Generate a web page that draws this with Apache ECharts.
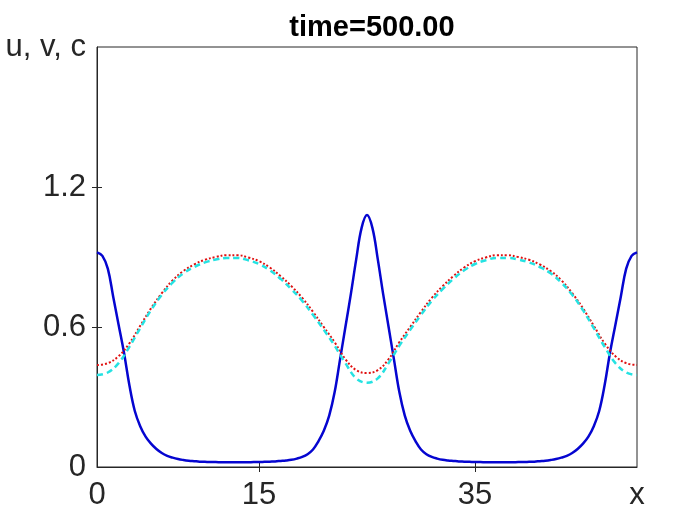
<!DOCTYPE html>
<html>
<head>
<meta charset="utf-8">
<script src="https://cdn.jsdelivr.net/npm/echarts@6/dist/echarts.min.js"></script>
<style>
  html, body { margin: 0; padding: 0; background: #fff; }
  #chart { width: 700px; height: 525px; }
</style>
</head>
<body>
<div id="chart"></div>
<script>
// grid positions for v and c, x = 0..50
const xs = [
  0, 1, 2, 3, 4, 5, 6, 7, 8, 9, 10, 11, 12, 13, 14, 15, 16, 17, 18, 19, 20, 21, 22, 23, 24, 25,
  26, 27, 28, 29, 30, 31, 32, 33, 34, 35, 36, 37, 38, 39, 40, 41, 42, 43, 44, 45, 46, 47, 48, 49, 50
];
// finer grid for u (pulses are narrow), x = 0..50 step 0.5
const uXs = [
  0, 0.5, 1, 1.5, 2, 2.5, 3, 3.5, 4, 4.5, 5, 5.5, 6, 6.5, 7, 7.5, 8, 8.5, 9, 9.5,
  10, 10.5, 11, 11.5, 12, 12.5, 13, 13.5, 14, 14.5, 15, 15.5, 16, 16.5, 17, 17.5, 18, 18.5, 19, 19.5,
  20, 20.5, 21, 21.5, 22, 22.5, 23, 23.5, 24, 24.5, 25, 25.5, 26, 26.5, 27, 27.5, 28, 28.5, 29, 29.5,
  30, 30.5, 31, 31.5, 32, 32.5, 33, 33.5, 34, 34.5, 35, 35.5, 36, 36.5, 37, 37.5, 38, 38.5, 39, 39.5,
  40, 40.5, 41, 41.5, 42, 42.5, 43, 43.5, 44, 44.5, 45, 45.5, 46, 46.5, 47, 47.5, 48, 48.5, 49, 49.5, 50
];
// u (blue solid)
const uVals = [
  0.92, 0.905, 0.85, 0.73, 0.61, 0.49, 0.35, 0.24, 0.175, 0.13, 0.10, 0.077, 0.06, 0.048, 0.04, 0.034, 0.03, 0.027, 0.025, 0.023,
  0.022, 0.021, 0.021, 0.02, 0.02, 0.02, 0.02, 0.02, 0.02, 0.021, 0.021, 0.022, 0.023, 0.024, 0.026, 0.028, 0.031, 0.036, 0.043, 0.055,
  0.075, 0.11, 0.155, 0.22, 0.32, 0.46, 0.60, 0.74, 0.89, 1.025, 1.08, 1.025, 0.89, 0.74, 0.60, 0.46, 0.32, 0.22, 0.155, 0.11,
  0.075, 0.055, 0.043, 0.036, 0.031, 0.028, 0.026, 0.024, 0.023, 0.022, 0.021, 0.021, 0.02, 0.02, 0.02, 0.02, 0.02, 0.02, 0.021, 0.021,
  0.022, 0.023, 0.025, 0.027, 0.03, 0.034, 0.04, 0.048, 0.06, 0.077, 0.10, 0.13, 0.175, 0.24, 0.35, 0.49, 0.61, 0.73, 0.85, 0.905, 0.92
];
// v (red dotted)
const vVals = [
  0.437, 0.445, 0.475, 0.53, 0.605, 0.68, 0.745, 0.80, 0.84, 0.868, 0.888, 0.90, 0.908,
  0.908, 0.898, 0.882, 0.855, 0.818, 0.775, 0.725, 0.665, 0.60, 0.535, 0.462, 0.415, 0.403,
  0.415, 0.462, 0.535, 0.60, 0.665, 0.725, 0.775, 0.818, 0.855, 0.882, 0.898, 0.908,
  0.908, 0.90, 0.888, 0.868, 0.84, 0.80, 0.745, 0.68, 0.605, 0.53, 0.475, 0.445, 0.437
];
// c (cyan dashed)
const cVals = [
  0.394, 0.405, 0.445, 0.515, 0.595, 0.672, 0.738, 0.79, 0.83, 0.857, 0.877, 0.889, 0.896,
  0.896, 0.886, 0.870, 0.843, 0.806, 0.762, 0.712, 0.652, 0.588, 0.52, 0.445, 0.38, 0.361,
  0.38, 0.445, 0.52, 0.588, 0.652, 0.712, 0.762, 0.806, 0.843, 0.870, 0.886, 0.896,
  0.896, 0.889, 0.877, 0.857, 0.83, 0.79, 0.738, 0.672, 0.595, 0.515, 0.445, 0.405, 0.394
];
const xTickLabels = [0, 15, 35, 50];
const yTickLabels = [0, 0.6, 1.2, 1.8];

const pairs = (xv, vals) => xv.map((x, i) => [x, vals[i]]);
const axisColor = "#262626";
const font = "Helvetica, Arial, 'Liberation Sans', sans-serif";

const chart = echarts.init(document.getElementById("chart"));
chart.setOption({
  backgroundColor: "#fff",
  animation: false,
  title: {
    text: "time=500.00",
    left: 367,
    textAlign: "center",
    top: 8,
    textStyle: { fontFamily: font, fontSize: 29, fontWeight: "bold", color: "#000" },
  },
  grid: {
    left: 97,
    right: 63,
    top: 47,
    bottom: 58,
    show: true,
    borderColor: axisColor,
    borderWidth: 1,
  },
  xAxis: [
    {
      type: "value",
      min: 0,
      max: 50,
      axisLine: { show: true, lineStyle: { color: axisColor } },
      splitLine: { show: false },
      axisTick: { show: true, inside: true, length: 5, customValues: [15, 35], lineStyle: { color: axisColor } },
      axisLabel: {
        customValues: xTickLabels,
        formatter: (v) => (v === 50 ? "x" : String(v)),
        fontFamily: font,
        fontSize: 31,
        color: axisColor,
        margin: 13,
      },
    },
    {
      type: "value",
      position: "top",
      min: 0,
      max: 50,
      axisLine: { show: false },
      splitLine: { show: false },
      axisTick: { show: true, inside: true, length: 5, customValues: [15, 35], lineStyle: { color: axisColor } },
      axisLabel: { show: false },
    },
  ],
  yAxis: [
    {
      type: "value",
      min: 0,
      max: 1.8,
      axisLine: { show: true, lineStyle: { color: axisColor } },
      splitLine: { show: false },
      axisTick: { show: true, inside: true, length: 5, customValues: [0.6, 1.2], lineStyle: { color: axisColor } },
      axisLabel: {
        customValues: yTickLabels,
        formatter: (v) => (Math.abs(v - 1.8) < 1e-9 ? "u, v, c" : String(v)),
        fontFamily: font,
        fontSize: 31,
        color: axisColor,
        margin: 11,
      },
    },
    {
      type: "value",
      position: "right",
      min: 0,
      max: 1.8,
      axisLine: { show: false },
      splitLine: { show: false },
      axisTick: { show: true, inside: true, length: 5, customValues: [0.6, 1.2], lineStyle: { color: axisColor } },
      axisLabel: { show: false },
    },
  ],
  series: [
    {
      name: "u",
      type: "line",
      data: pairs(uXs, uVals),
      smooth: 0.4,
      showSymbol: false,
      lineStyle: { color: "#0505d0", width: 2.5, type: "solid" },
      z: 3,
    },
    {
      name: "v",
      type: "line",
      data: pairs(xs, vVals),
      smooth: 0.4,
      showSymbol: false,
      lineStyle: { color: "#e01010", width: 2, type: [2, 2] },
      z: 4,
    },
    {
      name: "c",
      type: "line",
      data: pairs(xs, cVals),
      smooth: 0.4,
      showSymbol: false,
      lineStyle: { color: "#25e2e2", width: 2.5, type: [6, 4] },
      z: 5,
    },
  ],
});
</script>
</body>
</html>
